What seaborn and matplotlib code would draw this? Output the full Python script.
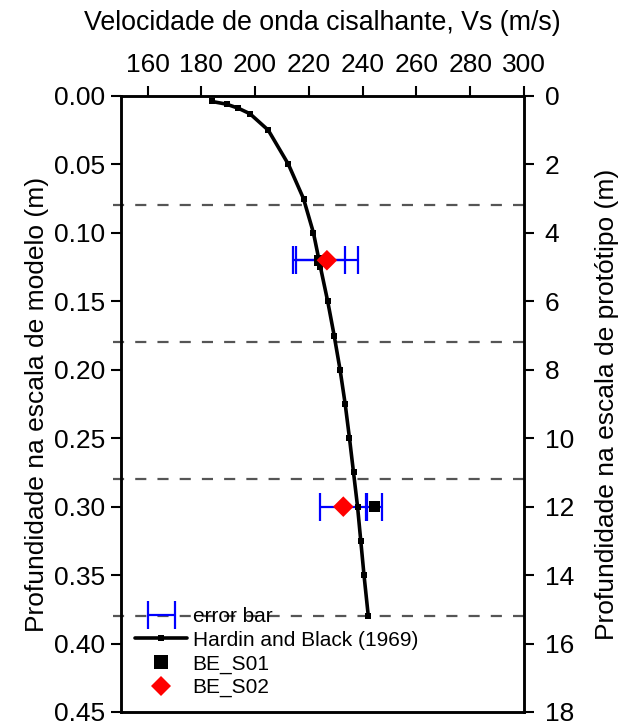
import numpy as np
import pandas as pd
import matplotlib
matplotlib.use("Agg")
import matplotlib.pyplot as plt
import seaborn as sns
from matplotlib.lines import Line2D
from matplotlib.legend_handler import HandlerErrorbar
from matplotlib.container import ErrorbarContainer

# Hardin and Black (1969) profile: model depth (m) and Vs (m/s)
hb_depth = [0.004, 0.006, 0.009, 0.013, 0.025, 0.05, 0.075, 0.10, 0.125, 0.15,
            0.175, 0.20, 0.225, 0.25, 0.275, 0.30, 0.325, 0.35, 0.38]
hb_vs = [183.9, 189.4, 193.8, 198.1, 204.9, 212.4, 218.0, 221.7, 224.3, 227.0,
         229.4, 231.6, 233.5, 235.1, 236.6, 238.1, 239.3, 240.5, 242.1]

# Bender element measurements
be_depth = [0.12, 0.30]
s01_vs = [223.8, 244.5]
s01_err = [9.6, 2.7]
s02_vs = [226.7, 232.8]
s02_err = [11.5, 8.5]

# layer boundaries (model scale, m)
layer_depths = [0.08, 0.18, 0.28, 0.38]

vs_ticks = [160, 180, 200, 220, 240, 260, 280, 300]
model_ticks = [0.00, 0.05, 0.10, 0.15, 0.20, 0.25, 0.30, 0.35, 0.40, 0.45]
proto_ticks = [0, 2, 4, 6, 8, 10, 12, 14, 16, 18]

sns.set_style("ticks", rc={"axes.edgecolor": "black", "text.color": "black",
                           "xtick.color": "black", "ytick.color": "black",
                           "axes.labelcolor": "black"})
plt.rcParams['font.family'] = ['Liberation Sans', 'DejaVu Sans']

fig = plt.figure(figsize=(6.24, 7.26), dpi=100)
ax = fig.add_axes([0.1934, 0.0193, 0.6463, 0.8485])

for d in layer_depths:
    ax.axhline(d, xmin=-0.02, xmax=1.0, color='#555555', lw=1.6,
               ls=(0, (5, 5)), clip_on=False, zorder=1)

eb1 = ax.errorbar(s01_vs, be_depth, xerr=s01_err, fmt='none', ecolor='#0000ff',
                  elinewidth=1.6, capsize=10, capthick=1.6, zorder=2)
eb2 = ax.errorbar(s02_vs, be_depth, xerr=s02_err, fmt='none', ecolor='#0000ff',
                  elinewidth=1.6, capsize=10, capthick=1.6, zorder=2)

hb = pd.DataFrame({'vs': hb_vs, 'depth': hb_depth})
sns.lineplot(data=hb, x='vs', y='depth', sort=False, estimator=None,
             color='black', lw=2.6, marker='s', markersize=5,
             markeredgewidth=0, ax=ax, zorder=3)

be = pd.DataFrame({'depth': be_depth, 's01': s01_vs, 's02': s02_vs})
sns.scatterplot(data=be, x='s01', y='depth', marker='s', s=64, color='black',
                edgecolor='none', ax=ax, zorder=4)
sns.scatterplot(data=be, x='s02', y='depth', marker='D', s=110, color='red',
                edgecolor='none', ax=ax, zorder=5)

ax.set_xlim(150, 300)
ax.set_ylim(0.45, 0.0)
ax.set_xticks(vs_ticks)
ax.set_xticklabels([str(v) for v in vs_ticks])
ax.set_yticks(model_ticks)
ax.set_yticklabels([f"{v:.2f}" for v in model_ticks])
ax.xaxis.tick_top()
ax.xaxis.set_label_position('top')
ax.tick_params(axis='x', top=True, bottom=False, direction='out', length=7,
               width=1.5, pad=7, labelsize=19)
ax.tick_params(axis='y', left=True, right=False, direction='out', length=7,
               width=1.5, pad=4, labelsize=19)
ax.set_xlabel('Velocidade de onda cisalhante, Vs (m/s)', fontsize=19.3, labelpad=16)
ax.set_ylabel('Profundidade na escala de modelo (m)', fontsize=19, labelpad=4)
for sp in ax.spines.values():
    sp.set_linewidth(1.8)
    sp.set_visible(True)

ax2 = ax.twinx()
ax2.set_ylim(18, 0)
ax2.set_yticks(proto_ticks)
ax2.set_yticklabels([str(v) for v in proto_ticks])
ax2.tick_params(axis='y', right=True, direction='out', length=7, width=1.5,
                pad=8, labelsize=19)
ax2.set_ylabel('Profundidade na escala de protótipo (m)', fontsize=19, labelpad=15)
for sp in ax2.spines.values():
    sp.set_linewidth(1.8)

h_line = Line2D([], [], color='black', lw=2.6, marker='s', markersize=5,
                markeredgewidth=0)
h_s01 = Line2D([], [], color='black', ls='none', marker='s', markersize=10,
               markeredgewidth=0)
h_s02 = Line2D([], [], color='red', ls='none', marker='D', markersize=10,
               markeredgewidth=0)
leg = ax.legend([eb1, h_line, h_s01, h_s02],
                ['error bar', 'Hardin and Black (1969)', 'BE_S01', 'BE_S02'],
                handler_map={ErrorbarContainer: HandlerErrorbar(xerr_size=0.65)},
                loc='lower left', bbox_to_anchor=(0.0, 0.0), frameon=False,
                fontsize=15, handlelength=2.5, handletextpad=0.25,
                labelspacing=0.22, borderaxespad=0.3, numpoints=1)
leg.set_zorder(6)

fig.savefig('out.png', dpi=100)
